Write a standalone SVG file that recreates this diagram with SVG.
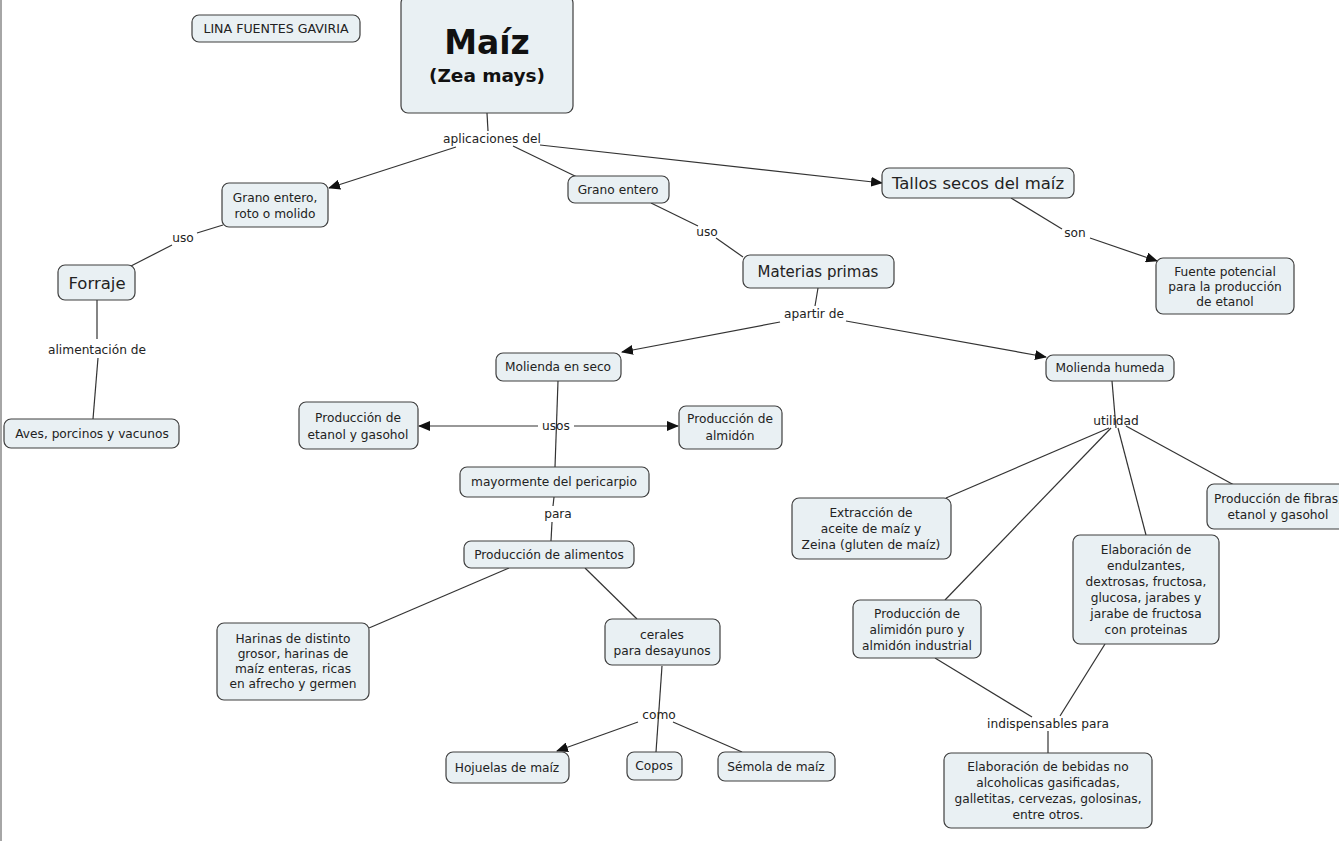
<svg xmlns="http://www.w3.org/2000/svg" width="1339" height="841" viewBox="0 0 1339 841">
<style>
.n rect{fill:#e9f0f3;stroke:#3f3f3f;stroke-width:1.2}
text{font-family:"DejaVu Sans",Verdana,sans-serif;font-size:12.2px;fill:#222;text-anchor:middle}
.big{font-size:16.5px}
.c line{stroke:#333;stroke-width:1.2;fill:none}
</style>
<defs>
<marker id="ar" viewBox="0 0 12 10" refX="11" refY="5" markerWidth="12" markerHeight="10" markerUnits="userSpaceOnUse" orient="auto-start-reverse">
<path d="M0,0 L12,5 L0,10 z" fill="#111"/>
</marker>
</defs>
<rect x="0" y="0" width="1339" height="841" fill="#ffffff"/>
<line x1="1" y1="0" x2="1" y2="841" stroke="#888" stroke-width="1.5"/>

<g class="c">
<line x1="487" y1="113" x2="488" y2="131"/>
<line x1="456" y1="147" x2="329" y2="188" marker-end="url(#ar)"/>
<line x1="513" y1="146" x2="577" y2="177"/>
<line x1="540" y1="145" x2="882" y2="183" marker-end="url(#ar)"/>
<line x1="223" y1="225" x2="197" y2="233"/>
<line x1="172" y1="245" x2="131" y2="266"/>
<line x1="97" y1="300" x2="97" y2="339"/>
<line x1="98" y1="358" x2="93" y2="419"/>
<line x1="651" y1="203" x2="698" y2="226"/>
<line x1="716" y1="238" x2="743" y2="257"/>
<line x1="818" y1="288" x2="815" y2="306"/>
<line x1="780" y1="322" x2="622" y2="352" marker-end="url(#ar)"/>
<line x1="846" y1="321" x2="1046" y2="357" marker-end="url(#ar)"/>
<line x1="1011" y1="198" x2="1062" y2="229"/>
<line x1="1090" y1="238" x2="1157" y2="261" marker-end="url(#ar)"/>
<line x1="558" y1="381" x2="555" y2="467"/>
<line x1="538" y1="426" x2="419" y2="426" marker-end="url(#ar)"/>
<line x1="574" y1="426" x2="678" y2="426" marker-end="url(#ar)"/>
<line x1="554" y1="497" x2="553" y2="506"/>
<line x1="552" y1="522" x2="551" y2="541"/>
<line x1="509" y1="568" x2="369" y2="628"/>
<line x1="585" y1="568" x2="637" y2="619"/>
<line x1="662" y1="666" x2="656" y2="752"/>
<line x1="638" y1="722" x2="557" y2="751" marker-end="url(#ar)"/>
<line x1="673" y1="722" x2="742" y2="752"/>
<line x1="1112" y1="381" x2="1116" y2="428"/>
<line x1="1109" y1="428" x2="946" y2="498"/>
<line x1="1111" y1="428" x2="945" y2="600"/>
<line x1="1118" y1="428" x2="1146" y2="535"/>
<line x1="1126" y1="426" x2="1234" y2="485"/>
<line x1="935" y1="658" x2="1032" y2="717"/>
<line x1="1105" y1="644" x2="1060" y2="716"/>
<line x1="1048" y1="731" x2="1048" y2="753"/>
</g>

<g id="labels">
<text x="492" y="143">aplicaciones del</text>
<text x="183" y="242">uso</text>
<text x="97" y="354">alimentación de</text>
<text x="707" y="236">uso</text>
<text x="1075" y="237">son</text>
<text x="814" y="318">apartir de</text>
<text x="556" y="430">usos</text>
<text x="558" y="518">para</text>
<text x="659" y="719">como</text>
<text x="1116" y="425">utilidad</text>
<text x="1048" y="728">indispensables para</text>
</g>

<g id="lina" class="n"><rect x="192" y="15" width="168" height="27" rx="7"/><text x="276" y="33" style="font-size:12.6px">LINA FUENTES GAVIRIA</text></g>
<g id="maiz" class="n"><rect x="401" y="-4" width="172" height="117" rx="7"/>
<text x="487" y="54" style="font-size:33px;font-weight:bold;fill:#111">Maíz</text>
<text x="487" y="82" style="font-size:18.5px;font-weight:bold;fill:#111">(Zea mays)</text></g>
<g id="grano-roto" class="n"><rect x="222" y="183" width="106" height="44" rx="7"/><text x="275" y="202">Grano entero,</text><text x="275" y="218">roto o molido</text></g>
<g id="grano" class="n"><rect x="568" y="176" width="101" height="27" rx="7"/><text x="618" y="194">Grano entero</text></g>
<g id="tallos" class="n"><rect x="882" y="168" width="192" height="30" rx="7"/><text class="big" x="978" y="189">Tallos secos del maíz</text></g>
<g id="forraje" class="n"><rect x="58" y="265" width="77" height="35" rx="7"/><text class="big" x="97" y="289">Forraje</text></g>
<g id="aves" class="n"><rect x="4" y="419" width="175" height="29" rx="7"/><text x="92" y="438">Aves, porcinos y vacunos</text></g>
<g id="materias" class="n"><rect x="743" y="255" width="151" height="33" rx="7"/><text x="818" y="277" style="font-size:15px">Materias primas</text></g>
<g id="fuente" class="n"><rect x="1156" y="258" width="138" height="56" rx="7"/><text x="1225" y="276">Fuente potencial</text><text x="1225" y="291">para la producción</text><text x="1225" y="306">de etanol</text></g>
<g id="seco" class="n"><rect x="496" y="353" width="125" height="28" rx="7"/><text x="558" y="371">Molienda en seco</text></g>
<g id="humeda" class="n"><rect x="1046" y="355" width="128" height="26" rx="7"/><text x="1110" y="372">Molienda humeda</text></g>
<g id="etanol" class="n"><rect x="299" y="402" width="119" height="47" rx="7"/><text x="358" y="422">Producción de</text><text x="358" y="439">etanol y gasohol</text></g>
<g id="almidon" class="n"><rect x="679" y="406" width="103" height="43" rx="7"/><text x="730" y="423">Producción de</text><text x="730" y="440">almidón</text></g>
<g id="pericarpio" class="n"><rect x="460" y="467" width="189" height="30" rx="7"/><text x="554" y="486">mayormente del pericarpio</text></g>
<g id="alimentos" class="n"><rect x="464" y="541" width="170" height="27" rx="7"/><text x="549" y="559">Producción de alimentos</text></g>
<g id="harinas" class="n"><rect x="217" y="623" width="152" height="77" rx="7"/><text x="293" y="643">Harinas de distinto</text><text x="293" y="658">grosor, harinas de</text><text x="293" y="673">maíz enteras, ricas</text><text x="293" y="688">en afrecho y germen</text></g>
<g id="cerales" class="n"><rect x="605" y="619" width="115" height="46" rx="7"/><text x="662" y="639">cerales</text><text x="662" y="655">para desayunos</text></g>
<g id="hojuelas" class="n"><rect x="446" y="752" width="123" height="31" rx="7"/><text x="507" y="772">Hojuelas de maíz</text></g>
<g id="copos" class="n"><rect x="627" y="752" width="55" height="28" rx="7"/><text x="654" y="770">Copos</text></g>
<g id="semola" class="n"><rect x="718" y="752" width="117" height="29" rx="7"/><text x="776" y="771">Sémola de maíz</text></g>
<g id="extraccion" class="n"><rect x="792" y="498" width="159" height="61" rx="7"/><text x="871" y="517">Extracción de</text><text x="871" y="533">aceite de maíz y</text><text x="871" y="549">Zeina (gluten de maíz)</text></g>
<g id="fibras" class="n"><rect x="1207" y="484" width="144" height="45" rx="7"/><text x="1278" y="503">Producción de fibras,</text><text x="1278" y="519">etanol y gasohol</text></g>
<g id="endulzantes" class="n"><rect x="1073" y="535" width="146" height="109" rx="7"/><text x="1146" y="554">Elaboración de</text><text x="1146" y="570">endulzantes,</text><text x="1146" y="586">dextrosas, fructosa,</text><text x="1146" y="602">glucosa, jarabes y</text><text x="1146" y="618">jarabe de fructosa</text><text x="1146" y="634">con proteinas</text></g>
<g id="alimidon" class="n"><rect x="853" y="600" width="128" height="58" rx="7"/><text x="917" y="618">Producción de</text><text x="917" y="634">alimidón puro y</text><text x="917" y="650">almidón industrial</text></g>
<g id="bebidas" class="n"><rect x="944" y="753" width="208" height="75" rx="7"/><text x="1048" y="771">Elaboración de bebidas no</text><text x="1048" y="787">alcoholicas gasificadas,</text><text x="1048" y="803">galletitas, cervezas, golosinas,</text><text x="1048" y="819">entre otros.</text></g>
</svg>
